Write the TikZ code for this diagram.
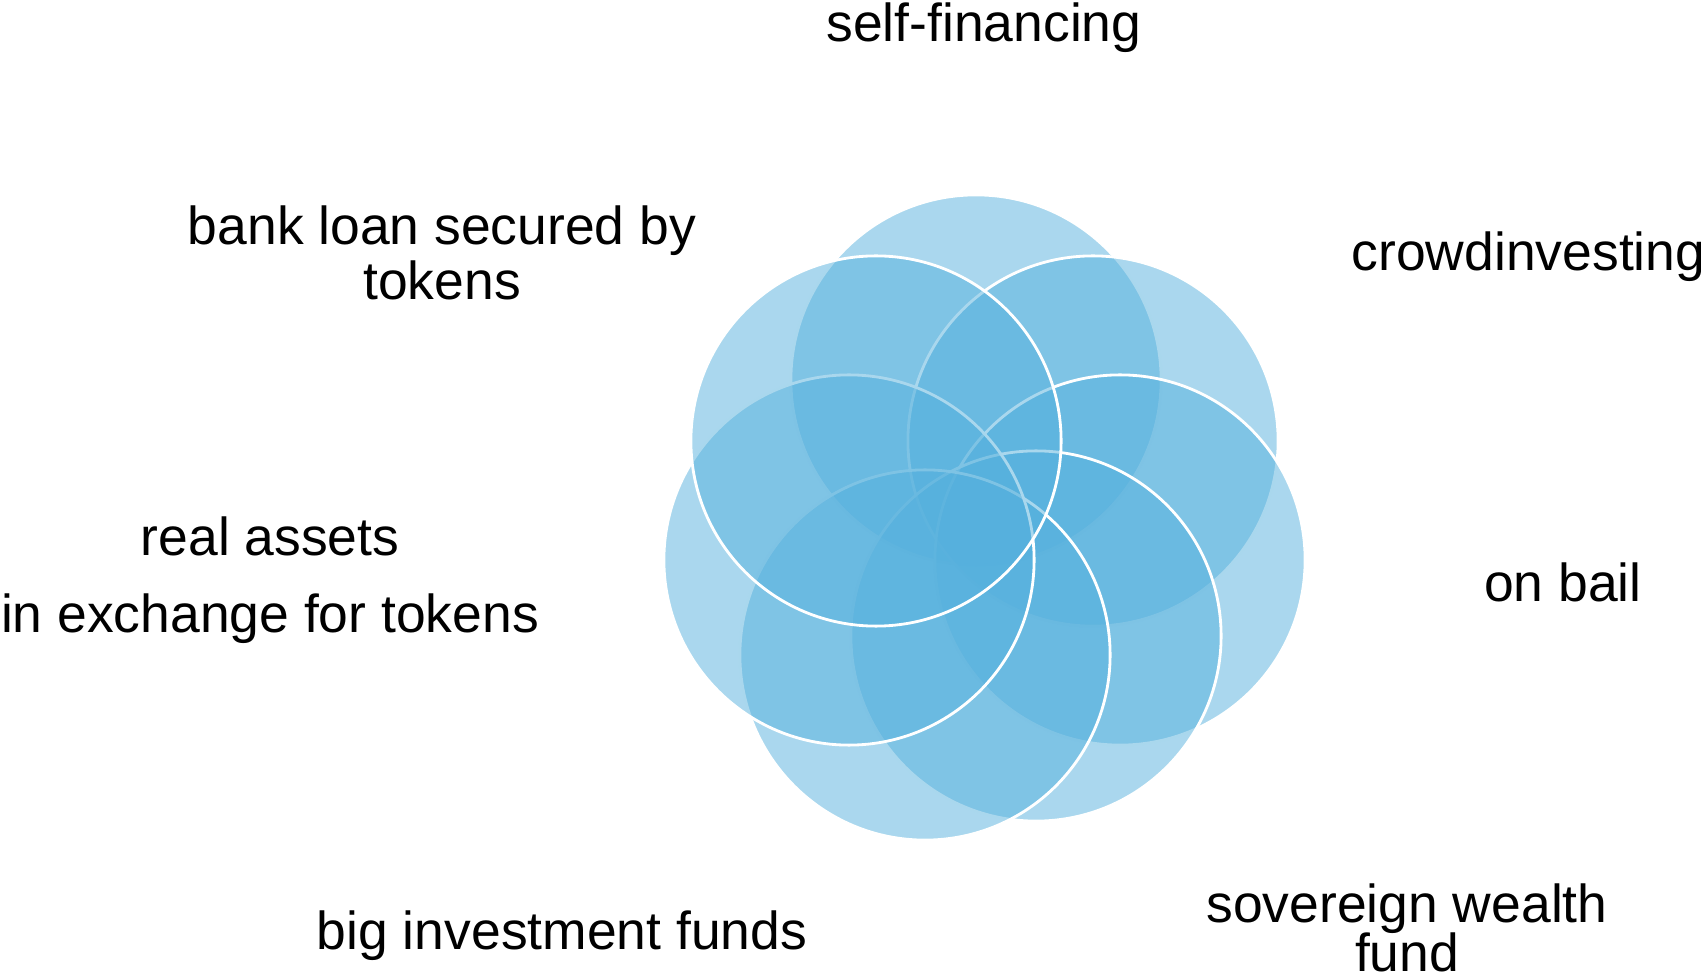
\documentclass[tikz,border=0pt]{standalone}
\usepackage{fontspec}
\setmainfont{Liberation Sans}
\definecolor{petalblue}{RGB}{85,176,221}
\begin{document}
\begin{tikzpicture}[x=0.01cm, y=-0.01cm,
  petal/.style={circle, minimum size=3.70cm, inner sep=0pt, fill=petalblue, fill opacity=0.5, draw=white, line width=0.8pt},
  srctext/.style={font=\fontsize{15.2}{16.5}\selectfont, align=center, anchor=base, inner sep=0pt}]
\useasboundingbox (0,0) rectangle (1701,980);
\node[petal] (src0) at (976,380){};
\node[petal] (src1) at (1093,441){};
\node[petal] (src2) at (1120,560){};
\node[petal] (src3) at (1036,636){};
\node[petal] (src4) at (925,655){};
\node[petal] (src5) at (849,560){};
\node[petal] (src6) at (876,441){};
\node[srctext] (txt0) at (984,42) {self-financing};
\node[srctext, anchor=base west] (txt1) at (1351,271) {crowdinvesting};
\node[srctext] (txt2) at (1563,602) {on bail};
\node[srctext] (txt3) at (1407,971) {sovereign wealth\\[-2.6pt] fund};
\node[srctext] (txt4) at (562,949) {big investment funds};
\node[srctext] (txt5) at (270,633) {real assets\\[5.4pt] in exchange for tokens};
\node[srctext] (txt6) at (442,300) {bank loan secured by\\[-0.8pt] tokens};
\end{tikzpicture}
\end{document}
